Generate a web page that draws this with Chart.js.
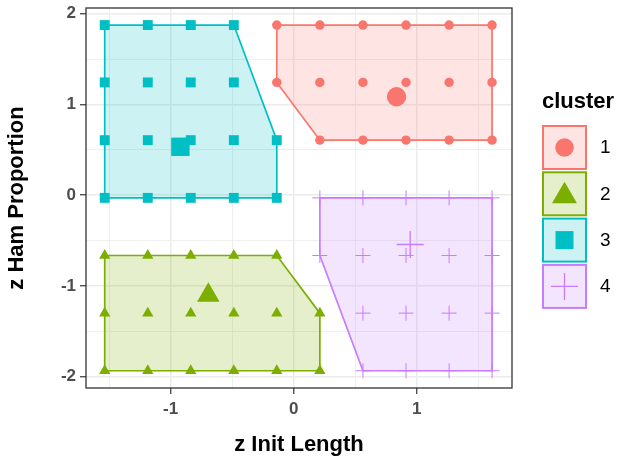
<!DOCTYPE html>
<html>
<head>
<meta charset="utf-8">
<script src="https://cdn.jsdelivr.net/npm/chart.js@4.4.1/dist/chart.umd.min.js"></script>
<style>
html, body { margin: 0; padding: 0; background: #fff; }
#wrap { width: 622px; height: 462px; }
</style>
</head>
<body>
<div id="wrap"><canvas id="chart"></canvas></div>
<script>
const clusterNames = ["1", "2", "3", "4"];
const clusterColors = ["#F8766D", "#7CAE00", "#00BFC4", "#C77CFF"];
const clusterFills = ["rgba(248,118,109,0.2)", "rgba(124,174,0,0.2)", "rgba(0,191,196,0.2)", "rgba(199,124,255,0.2)"];
const clusterShapes = ["circle", "triangle", "rect", "cross"];

// points per cluster (z Init Length, z Ham Proportion)
const c1X = [-0.137, 0.213, 0.563, 0.913, 1.263, 1.612, -0.137, 0.213, 0.563, 0.913, 1.263, 1.612, 0.213, 0.563, 0.913, 1.263, 1.612];
const c1Y = [1.874, 1.874, 1.874, 1.874, 1.874, 1.874, 1.242, 1.242, 1.242, 1.242, 1.242, 1.242, 0.606, 0.606, 0.606, 0.606, 0.606];
const c2X = [-1.535, -1.185, -0.836, -0.486, -0.137, -1.535, -1.185, -0.836, -0.486, -0.137, 0.213, -1.535, -1.185, -0.836, -0.486, -0.137, 0.213];
const c2Y = [-0.665, -0.665, -0.665, -0.665, -0.665, -1.30, -1.30, -1.30, -1.30, -1.30, -1.30, -1.935, -1.935, -1.935, -1.935, -1.935, -1.935];
const c3X = [-1.535, -1.185, -0.836, -0.486, -1.535, -1.185, -0.836, -0.486, -1.535, -1.185, -0.836, -0.486, -0.137, -1.535, -1.185, -0.836, -0.486, -0.137];
const c3Y = [1.874, 1.874, 1.874, 1.874, 1.242, 1.242, 1.242, 1.242, 0.606, 0.606, 0.606, 0.606, 0.606, -0.03, -0.03, -0.03, -0.03, -0.03];
const c4X = [0.213, 0.563, 0.913, 1.263, 1.612, 0.213, 0.563, 0.913, 1.263, 1.612, 0.563, 0.913, 1.263, 1.612, 0.563, 0.913, 1.263, 1.612];
const c4Y = [-0.03, -0.03, -0.03, -0.03, -0.03, -0.665, -0.665, -0.665, -0.665, -0.665, -1.30, -1.30, -1.30, -1.30, -1.935, -1.935, -1.935, -1.935];

const centroidX = [0.836, -0.693, -0.92, 0.947];
const centroidY = [1.084, -1.102, 0.533, -0.544];

const xLimits = [-1.687, 1.774];
const yLimits = [-2.125, 2.062];

const pointRadius = [4.7, 6.5, 7, 7.5];
const centroidRadius = [9.7, 13, 13, 13.5];

function toPoints(xs, ys) {
	return xs.map((x, i) => ({ x: x, y: ys[i] }));
}

// monotone chain convex hull, closed
function hull(pts) {
	const p = pts.slice().sort((a, b) => a.x - b.x || a.y - b.y);
	const cross = (o, a, b) => (a.x - o.x) * (b.y - o.y) - (a.y - o.y) * (b.x - o.x);
	const lower = [];
	for (const q of p) {
		while (lower.length >= 2 && cross(lower[lower.length - 2], lower[lower.length - 1], q) <= 0) lower.pop();
		lower.push(q);
	}
	const upper = [];
	for (let i = p.length - 1; i >= 0; i--) {
		const q = p[i];
		while (upper.length >= 2 && cross(upper[upper.length - 2], upper[upper.length - 1], q) <= 0) upper.pop();
		upper.push(q);
	}
	upper.pop();
	lower.pop();
	const h = lower.concat(upper);
	h.push(h[0]);
	return h;
}

const clusters = [toPoints(c1X, c1Y), toPoints(c2X, c2Y), toPoints(c3X, c3Y), toPoints(c4X, c4Y)];

const datasets = [];
for (let i = 0; i < 4; i++) {
	datasets.push({
		label: "centroid " + clusterNames[i],
		data: [{ x: centroidX[i], y: centroidY[i] }],
		pointStyle: clusterShapes[i],
		pointRadius: centroidRadius[i],
		backgroundColor: clusterColors[i],
		borderColor: clusterColors[i],
		borderWidth: clusterShapes[i] === "cross" ? 1.3 : 0,
		showLine: false,
	});
}
for (let i = 0; i < 4; i++) {
	datasets.push({
		label: clusterNames[i],
		data: clusters[i],
		pointStyle: clusterShapes[i],
		pointRadius: pointRadius[i],
		backgroundColor: clusterColors[i],
		borderColor: clusterColors[i],
		borderWidth: clusterShapes[i] === "cross" ? 1 : 0,
		showLine: false,
	});
}
for (let i = 0; i < 4; i++) {
	datasets.push({
		label: "hull " + clusterNames[i],
		data: hull(clusters[i]),
		showLine: true,
		fill: "shape",
		backgroundColor: clusterFills[i],
		borderColor: clusterColors[i],
		borderWidth: 1.7,
		pointRadius: 0,
		tension: 0,
	});
}

const isMajor = (v) => Math.abs(v - Math.round(v)) < 1e-6;
const tickFontX = { family: "Liberation Sans", size: 17, weight: "bold" };
const tickFontY = { family: "Liberation Sans", size: 17, weight: "bold", lineHeight: 0.5 };
const titleFont = { family: "Liberation Sans", size: 22, weight: "bold" };

function drawKeySymbol(ctx, shape, x, y, color) {
	ctx.fillStyle = color;
	ctx.strokeStyle = color;
	ctx.beginPath();
	if (shape === "circle") {
		ctx.arc(x, y, 9.3, 0, Math.PI * 2);
		ctx.fill();
	} else if (shape === "triangle") {
		ctx.moveTo(x, y - 12);
		ctx.lineTo(x + 12.5, y + 9.5);
		ctx.lineTo(x - 12.5, y + 9.5);
		ctx.closePath();
		ctx.fill();
	} else if (shape === "rect") {
		ctx.rect(x - 9, y - 9, 18, 18);
		ctx.fill();
	} else {
		ctx.lineWidth = 1.3;
		ctx.moveTo(x - 13.5, y);
		ctx.lineTo(x + 13.5, y);
		ctx.moveTo(x, y - 13.5);
		ctx.lineTo(x, y + 13.5);
		ctx.stroke();
	}
}

const framePlugin = {
	id: "frame",
	afterDatasetsDraw(chart) {
		const { ctx, chartArea: a } = chart;
		ctx.save();
		ctx.strokeStyle = "#333333";
		ctx.lineWidth = 1.3;
		ctx.strokeRect(a.left, a.top, a.right - a.left, a.bottom - a.top);
		ctx.restore();
	},
	afterDraw(chart) {
		const ctx = chart.ctx;
		ctx.save();
		ctx.fillStyle = "#000";
		ctx.font = "bold 22px 'Liberation Sans'";
		ctx.textBaseline = "middle";
		ctx.textAlign = "left";
		ctx.fillText("cluster", 542, 102);
		for (let i = 0; i < clusterNames.length; i++) {
			const top = 126 + i * 46.3;
			ctx.fillStyle = clusterFills[i];
			ctx.fillRect(543, top, 43, 43);
			ctx.strokeStyle = clusterColors[i];
			ctx.lineWidth = 2;
			ctx.strokeRect(543, top, 43, 43);
			drawKeySymbol(ctx, clusterShapes[i], 564.5, top + 21.5, clusterColors[i]);
			ctx.fillStyle = "#000";
			ctx.font = "19px 'Liberation Sans'";
			ctx.textBaseline = "middle";
			ctx.fillText(clusterNames[i], 600, top + 22);
		}
		ctx.restore();
	},
};

new Chart(document.getElementById("chart"), {
	type: "scatter",
	data: { datasets: datasets },
	plugins: [framePlugin],
	options: {
		responsive: true,
		maintainAspectRatio: false,
		animation: false,
		layout: { autoPadding: false, padding: { left: 0, right: 110, top: 8, bottom: 0 } },
		plugins: {
			legend: { display: false },
			tooltip: { enabled: false },
		},
		scales: {
			x: {
				type: "linear",
				min: xLimits[0],
				max: xLimits[1],
				afterFit: (s) => {
					s.height = 74;
					s.paddingLeft = 0;
					s.paddingRight = 0;
				},
				border: { display: false },
				grid: {
					color: "#EBEBEB",
					lineWidth: (c) => (isMajor(c.tick.value) ? 1.5 : 0.8),
					tickColor: (c) => (isMajor(c.tick.value) ? "#333333" : "rgba(0,0,0,0)"),
					tickLength: 6,
					tickWidth: 1.2,
				},
				ticks: {
					stepSize: 0.5,
					includeBounds: false,
					autoSkip: false,
					maxRotation: 0,
					padding: 5,
					color: "#4D4D4D",
					font: tickFontX,
					callback: (v) => (isMajor(v) ? Math.round(v).toString() : ""),
				},
				title: {
					display: true,
					text: "z Init Length",
					color: "#000",
					font: titleFont,
					padding: { top: 0, bottom: 4 },
				},
			},
			y: {
				type: "linear",
				min: yLimits[0],
				max: yLimits[1],
				afterFit: (s) => {
					s.width = 86;
					s.paddingTop = 0;
					s.paddingBottom = 0;
				},
				border: { display: false },
				grid: {
					color: "#EBEBEB",
					lineWidth: (c) => (isMajor(c.tick.value) ? 1.5 : 0.8),
					tickColor: (c) => (isMajor(c.tick.value) ? "#333333" : "rgba(0,0,0,0)"),
					tickLength: 6,
					tickWidth: 1.2,
				},
				ticks: {
					stepSize: 0.5,
					includeBounds: false,
					autoSkip: false,
					padding: 4,
					color: "#4D4D4D",
					font: tickFontY,
					callback: (v) => (isMajor(v) ? Math.round(v).toString() : ""),
				},
				title: {
					display: true,
					text: "z Ham Proportion",
					color: "#000",
					font: titleFont,
					padding: { top: 4, bottom: 0 },
				},
			},
		},
	},
});
</script>
</body>
</html>
